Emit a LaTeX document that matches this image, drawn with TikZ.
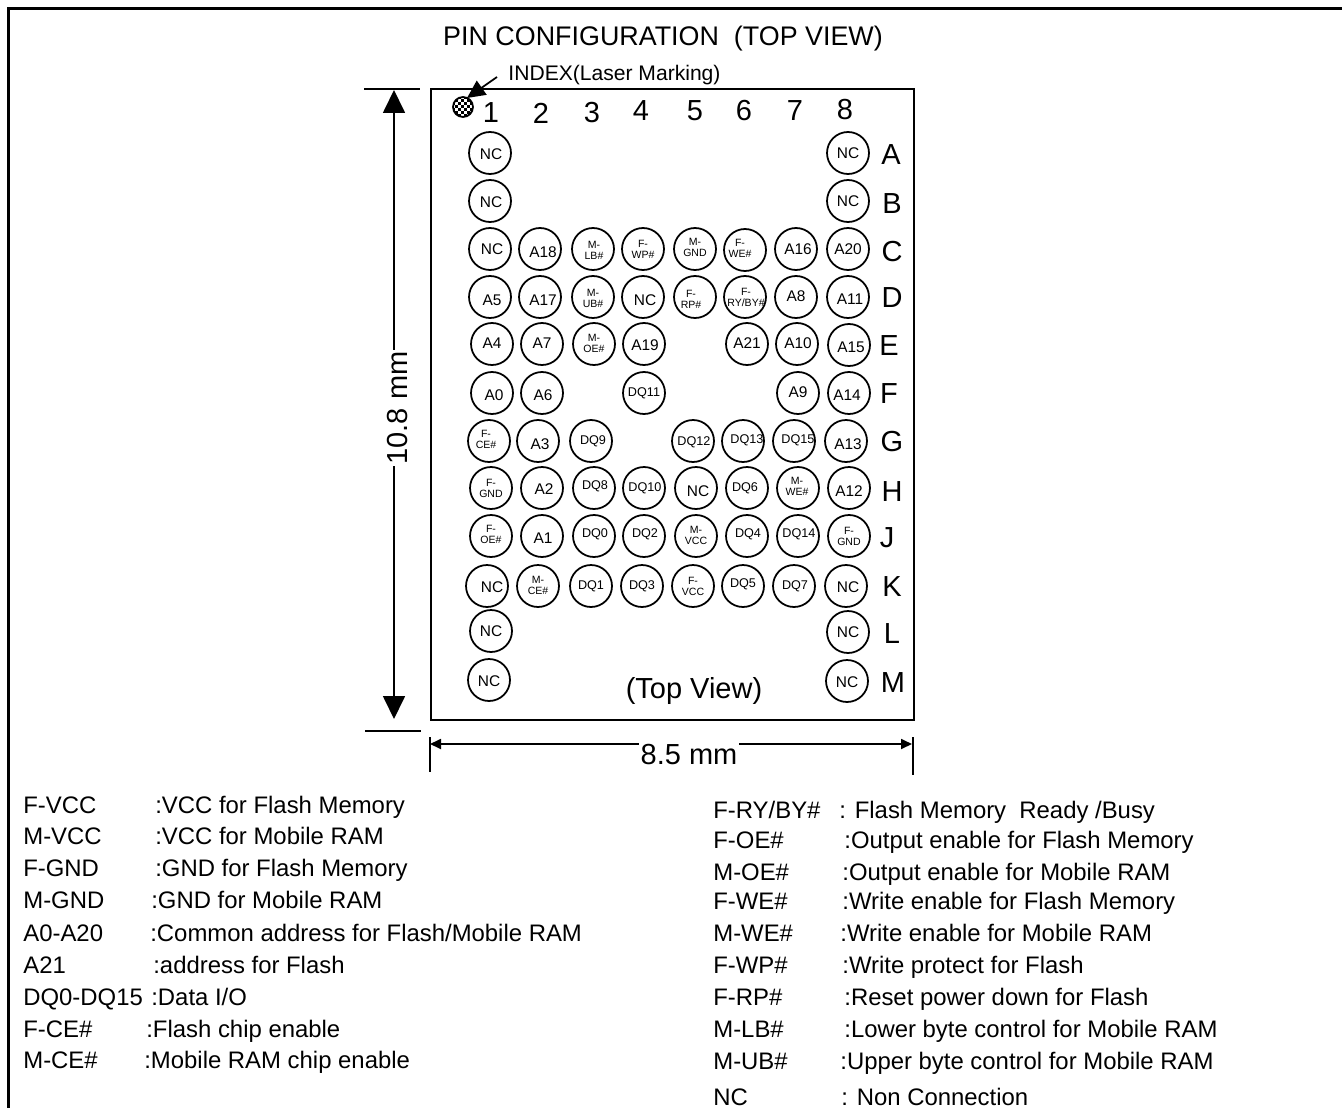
\documentclass[tikz,border=0pt]{standalone}
\usepackage{fontspec}
\setmainfont{Liberation Sans}
\usetikzlibrary{arrows.meta}

\tikzset{
  pinball/.style={circle,draw,line width=1pt,minimum size=0.84cm,inner sep=0pt},
  pinbig/.style={font=\fontsize{8.8}{10}\selectfont,inner sep=0pt},
  pindq/.style={font=\fontsize{7.2}{9}\selectfont,inner sep=0pt},
  pinsmall/.style={font=\fontsize{6}{6.2}\selectfont,align=center,inner sep=0pt},
  gridtext/.style={font=\fontsize{16.5}{18}\selectfont,inner sep=0pt},
  legendtext/.style={font=\fontsize{13.6}{15}\selectfont,inner sep=0pt,anchor=base west},
  dimbig/.style={line width=1pt,{Triangle[length=0.46cm,width=0.44cm]}-{Triangle[length=0.46cm,width=0.44cm]}},
  dimsmall/.style={line width=1pt,{Triangle[length=0.22cm,width=0.2cm]}-{Triangle[length=0.22cm,width=0.2cm]}}
}

\begin{document}
\begin{tikzpicture}[x=0.02cm,y=-0.02cm]
 \useasboundingbox (0,0) rectangle (1342,1108);

 %Coordinates
 \coordinate (framebottom) at (8.5,1108);
 \coordinate (framecorner) at (8.5,8.5);
 \coordinate (frameright) at (1342,8.5);
 \coordinate (indextail) at (497,77);
 \coordinate (indextip) at (467,98);
 \coordinate (dimtop) at (394,90);
 \coordinate (dimbottom) at (394,719);
 \coordinate (dimleft) at (430,744);
 \coordinate (dimright) at (912,744);

 %Frame and package
 \draw[line width=1.2pt] (framebottom) -- (framecorner) -- (frameright);
 \node (package) [draw,line width=1.1pt,minimum width=9.66cm,minimum height=12.62cm,inner sep=0pt] at (672.5,404.5) {};

 %Titles
 \node (title) [font=\fontsize{15.3}{17}\selectfont,inner sep=0pt] at (663,39) {PIN CONFIGURATION\ \ (TOP VIEW)};
 \node (index) [font=\fontsize{12}{14}\selectfont,inner sep=0pt] at (614.5,75) {INDEX(Laser Marking)};
 \node (topview) [gridtext] at (694,691) {(Top View)};

 %Index mark
 \begin{scope}
 \clip (463,107) circle (10);
 \foreach \i in {0,...,7}
 \foreach \j in {0,...,7}
 {
  \pgfmathparse{int(mod(\i+\j,2))}
  \ifnum\pgfmathresult=0 \fill ({452+\i*3},{96+\j*3}) rectangle +(3,3); \fi
 }
 \end{scope}
 \node (indexmark) [circle,draw,line width=1pt,minimum size=0.4cm,inner sep=0pt] at (463,107) {};
 \draw[line width=1pt,-{Triangle[length=0.36cm,width=0.34cm]}] (indextail) -- (indextip);

 %Dimensions
 \draw[line width=1pt] (364,89) -- (420,89);
 \draw[line width=1pt] (365,731) -- (421,731);
 \draw[dimbig] (dimtop) -- (dimbottom);
 \node (heightlabel) [gridtext,rotate=90,fill=white,inner xsep=1pt,inner ysep=0pt] at (398,408) {10.8 mm};
 \draw[line width=1pt] (430,737) -- (430,772);
 \draw[line width=1pt] (913,737) -- (913,775);
 \draw[dimsmall] (dimleft) -- (dimright);
 \node (widthlabel) [gridtext,fill=white,inner xsep=1pt,inner ysep=2pt] at (689,755) {8.5 mm};

 %Column numbers
 \foreach \x/\y/\xtext in {491/113/1,541/113/2,592/113/3,641/111/4,695/111/5,744/111/6,795/111/7,845/110/8}
 \node (col\xtext) [gridtext] at (\x,\y) {\xtext};

 %Row letters
 \foreach \x/\y/\ytext in {891/155/A,892/204/B,892/252/C,892/298/D,889/346/E,889/394/F,892/442/G,892/492/H,887/538/J,892/587/K,892/634/L,893/683/M}
 \node (row\ytext) [gridtext] at (\x,\y) {\ytext};

 %Pins
 \foreach \x/\y/\pinid/\pintext/\dx/\dy in {490/153/A1/NC/1/1,848/153/A8/NC/0/0,490/201/B1/NC/1/1,848/201/B8/NC/0/0,
   490/249/C1/NC/2/0,540/249/C2/A18/3/3,796/249/C7/A16/2/0,848/249/C8/A20/0/0,
   490/297/D1/A5/2/3,540/297/D2/A17/3/3,643/297/D4/NC/2/3,796/297/D7/A8/0/-1,848/297/D8/A11/2/2,
   492/344/E1/A4/0/-1,542/344/E2/A7/0/-1,644/344/E4/A19/1/1,747/344/E6/A21/0/-1,797/344/E7/A10/1/-1,849/345/E8/A15/2/2,
   492/393/F1/A0/2/2,542/393/F2/A6/1/2,798/393/F7/A9/0/-1,849/393/F8/A14/-2/2,
   538/441/G2/A3/2/3,846/441/G8/A13/2/3,
   542/488/H2/A2/2/1,696/488/H5/NC/2/3,849/488/H8/A12/0/3,
   542/536/J2/A1/1/2,
   487/586/K1/NC/5/1,846/586/K8/NC/2/1,
   491/631/L1/NC/0/0,848/632/L8/NC/0/0,489/680/M1/NC/0/1,847/681/M8/NC/0/1}
 \node[pinball,label={[pinbig,xshift=\dx*0.02cm,yshift=-\dy*0.02cm]center:\pintext}] (pin\pinid) at (\x,\y) {};

 \foreach \x/\y/\pinid/\pintext/\dx/\dy in {644/393/F4/DQ11/0/0,
   591/441/G3/DQ9/2/0,693/441/G5/DQ12/1/1,743/441/G6/DQ13/4/-1,794/441/G7/DQ15/4/-1,
   594/488/H3/DQ8/1/-2,644/488/H4/DQ10/1/0,747/488/H6/DQ6/-2/0,
   594/536/J3/DQ0/1/-2,644/536/J4/DQ2/1/-2,747/536/J6/DQ4/1/-2,798/536/J7/DQ14/1/-2,
   591/586/K3/DQ1/0/0,642/586/K4/DQ3/0/0,743/586/K6/DQ5/0/-2,794/586/K7/DQ7/1/0}
 \node[pinball,label={[pindq,xshift=\dx*0.02cm,yshift=-\dy*0.02cm]center:\pintext}] (pin\pinid) at (\x,\y) {};

 \foreach \x/\y/\pinid/\pintop/\pinbot/\dx/\dy in {593/249/C3/M-/LB\#/1/1,643/249/C4/F-/WP\#/0/0,695/249/C5/M-/GND/0/-2,745/250/C6/F-/WE\#/-5/-2,
   593/297/D3/M-/UB\#/0/1,695/297/D5/F-/RP\#/-4/2,745/297/D6/F-/{RY/BY\#}/1/0,
   594/344/E3/M-/OE\#/0/-1,
   489/441/G1/F-/CE\#/-3/-2,
   491/488/H1/F-/GND/0/0,798/488/H7/M-/WE\#/-1/-2,
   491/536/J1/F-/OE\#/0/-2,696/536/J5/M-/VCC/0/-1,849/536/J8/F-/GND/0/0,
   538/586/K2/M-/CE\#/0/-1,693/586/K5/F-/VCC/0/0}
 \node[pinball,label={[pinsmall,xshift=\dx*0.02cm,yshift=-\dy*0.02cm]center:\pintop\\\pinbot}] (pin\pinid) at (\x,\y) {};

 %Legend left
 \foreach \y/\xd/\sym/\desc [count=\i] in {813/155/F-VCC/:VCC for Flash Memory,
   844/155/M-VCC/:VCC for Mobile RAM,
   876/155/F-GND/:GND for Flash Memory,
   908/151/M-GND/:GND for Mobile RAM,
   941/150/A0-A20/:Common address for Flash{/}Mobile RAM,
   973/153/A21/:address for Flash,
   1005/151/DQ0-DQ15/:Data I{/}O,
   1037/146/F-CE\#/:Flash chip enable,
   1068/144/M-CE\#/:Mobile RAM chip enable}
 {
 \node (leftsym\i) [legendtext] at (23,\y) {\sym};
 \node (leftdesc\i) [legendtext] at (\xd,\y) {\desc};
 }

 %Legend right
 \foreach \y/\xd/\sym/\desc [count=\i] in {818/839/F-RY{/}BY\#/: Flash Memory\ \ Ready {/}Busy,
   848/844/F-OE\#/:Output enable for Flash Memory,
   880/842/M-OE\#/:Output enable for Mobile RAM,
   909/842/F-WE\#/:Write enable for Flash Memory,
   941/840/M-WE\#/:Write enable for Mobile RAM,
   973/842/F-WP\#/:Write protect for Flash,
   1005/844/F-RP\#/:Reset power down for Flash,
   1037/844/M-LB\#/:Lower byte control for Mobile RAM,
   1069/840/M-UB\#/:Upper byte control for Mobile RAM,
   1105/841/NC/: Non Connection}
 {
 \node (rightsym\i) [legendtext] at (713,\y) {\sym};
 \node (rightdesc\i) [legendtext] at (\xd,\y) {\desc};
 }

\end{tikzpicture}
\end{document}
